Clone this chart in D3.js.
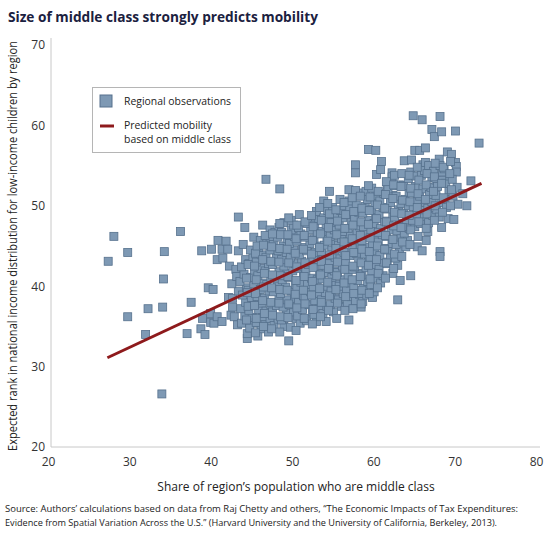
<!DOCTYPE html>
<html><head><meta charset="utf-8">
<script src="https://cdn.jsdelivr.net/npm/d3@7/dist/d3.min.js"></script>
<style>body{margin:0;background:#fff}svg{display:block}text{font-family:"Open Sans","Noto Sans",sans-serif}</style>
</head><body><svg id="c" width="550" height="534"></svg>
<script>
const xTicks = [20,30,40,50,60,70,80];
const yTicks = [20,30,40,50,60,70];
const trendLine = [[27.3,31.1],[73.3,52.8]];
const outliers = [[27.4,43.1],[28.1,46.2],[29.8,44.2],[29.8,36.2],[32.0,34.0],[32.3,37.2],[34.1,37.4],[34.3,44.3],[34.2,40.9],[34.0,26.6],[36.3,46.8],[37.6,38.0],[37.1,34.1],
[38.8,34.7],[39.3,34.0],[39.0,36.0],[38.9,44.4],[40.1,44.6],[39.7,39.8],[40.3,39.6],[40.0,36.6],[40.0,35.5],[40.4,35.4],[40.8,43.3],[40.9,45.7],[40.8,36.2],
[41.4,44.6],[41.9,45.6],[41.5,43.5],[42.1,44.6],[42.3,42.5],[41.4,35.6],[42.2,38.6],[42.5,36.4],[42.7,37.4],[42.7,38.5],[42.9,36.2],[43.1,42.1],[43.3,35.2],[43.4,48.6],[43.4,44.4],[43.4,39.4],[42.6,40.3],[43.2,41.2]];
const core = [
[44.5,33.5],[44.5,34.1],[43.8,35.4],[44.2,36.3],[43.7,37.2],[44.3,38.0],[43.9,38.9],[44.4,39.8],[43.6,40.6],[44.1,41.5],[43.8,42.4],[44.3,43.3],[44.0,45.2],[44.2,47.3],
[45.3,35.4],[44.8,34.8],[45.1,36.1],[44.7,37.0],[45.4,37.8],[45.0,38.6],[44.6,39.5],[45.3,40.3],[44.9,41.1],[45.4,42.0],[44.7,42.8],[45.2,43.6],[44.9,44.5],[45.3,46.1],
[45.8,33.8],[46.2,34.7],[45.6,35.5],[46.4,36.2],[45.9,37.1],[46.3,37.9],[45.7,38.7],[46.1,39.6],[46.4,40.4],[45.8,41.3],[46.2,42.2],[45.6,43.0],[46.3,43.9],[45.9,44.8],[46.1,45.7],[46.4,47.6],
[47.1,34.3],[46.7,35.2],[47.3,36.0],[46.8,36.9],[47.4,37.7],[46.6,38.5],[47.2,39.4],[46.9,40.2],[47.4,41.1],[46.7,41.9],[47.1,42.8],[46.8,43.6],[47.3,44.5],[46.9,45.3],[47.3,46.1],[47.3,47.0],[46.8,53.3],
[47.8,35.1],[48.3,35.9],[47.6,36.8],[48.1,37.6],[48.4,38.5],[47.7,39.3],[48.2,40.1],[47.9,41.0],[48.4,41.8],[47.6,42.7],[48.1,43.5],[48.3,44.4],[47.7,45.2],[48.2,46.1],[47.9,46.7],[48.4,47.3],[48.5,52.1],
[49.0,35.0],[49.6,33.2],[48.7,35.8],[49.3,36.6],[48.9,37.4],[49.4,38.3],[48.6,39.1],[49.2,39.9],[48.8,40.8],[49.4,41.6],[49.0,42.5],[48.7,43.3],[49.3,44.2],[48.9,45.0],[49.4,45.9],[48.7,46.7],[49.0,47.9],
[50.5,36.0],[49.8,34.9],[50.2,36.8],[49.7,37.7],[50.3,38.5],[49.9,39.4],[50.4,40.2],[49.6,41.1],[50.1,41.9],[50.4,42.8],[49.8,43.6],[50.2,44.5],[49.7,45.3],[50.3,46.2],[49.9,47.0],[50.2,47.6],[49.9,48.2],
[51.0,35.4],[50.7,36.3],[51.3,37.1],[50.8,38.0],[51.4,38.8],[50.6,39.7],[51.1,40.5],[51.4,41.4],[50.7,42.2],[51.2,43.1],[50.9,43.9],[51.3,44.8],[50.6,45.6],[51.1,46.5],[50.8,47.3],[50.9,48.9],
[52.5,36.8],[51.8,35.7],[52.1,37.7],[51.6,38.5],[52.3,39.3],[51.9,40.2],[52.4,41.0],[51.7,41.9],[52.0,42.7],[52.4,43.6],[51.8,44.4],[52.2,45.3],[51.6,46.1],[52.3,47.0],[52.4,48.1],[51.9,47.8],
[53.0,35.6],[52.7,36.5],[53.3,37.4],[52.8,38.2],[53.4,39.1],[52.6,39.9],[53.1,40.8],[53.4,41.6],[52.8,42.5],[53.2,43.3],[52.9,44.2],[53.4,45.0],[52.7,45.9],[53.1,46.7],[52.8,47.6],[53.3,48.4],[53.0,49.3],
[54.2,35.6],[53.8,36.6],[54.3,37.5],[53.6,38.3],[54.1,39.2],[54.4,40.0],[53.7,40.9],[54.2,41.7],[53.9,42.6],[54.4,43.4],[53.6,44.3],[54.0,45.1],[54.3,46.0],[53.7,46.8],[54.2,47.7],[53.9,48.5],[54.4,49.4],[53.9,50.6],[54.6,51.8],[54.6,48.1],
[55.1,36.8],[54.7,37.7],[55.3,38.5],[54.8,39.4],[55.4,40.2],[54.9,41.1],[55.2,41.9],[54.6,42.8],[55.3,43.6],[54.9,44.5],[55.4,45.3],[54.7,46.2],[55.2,47.0],[54.8,47.9],[55.4,49.0],[55.0,49.8],
[56.1,37.5],[55.7,38.3],[56.3,39.1],[55.8,40.0],[56.4,40.8],[55.6,41.7],[56.2,42.5],[55.9,43.4],[56.4,44.2],[55.7,45.1],[56.1,45.9],[56.3,46.8],[55.8,47.6],[56.2,48.5],[55.9,50.8],[56.0,49.4],[56.4,50.0],
[57.0,35.8],[56.8,37.9],[57.3,38.7],[56.7,39.6],[57.2,40.4],[56.9,41.3],[57.4,42.1],[56.6,43.0],[57.1,43.8],[57.4,44.7],[56.8,45.5],[57.2,46.4],[56.9,47.2],[57.3,48.1],[56.7,48.9],[57.1,49.8],[57.0,50.6],[57.0,52.0],
[58.5,37.4],[57.8,38.2],[58.3,39.0],[57.6,39.9],[58.1,40.7],[58.4,41.6],[57.7,42.4],[58.2,43.3],[57.9,44.1],[58.4,45.0],[57.6,45.8],[58.0,46.7],[58.3,47.5],[57.7,48.4],[58.2,49.2],[57.9,50.1],[58.5,51.6],[57.8,51.9],[57.8,55.1],[57.8,54.1],
[58.7,38.1],[59.2,38.9],[58.8,39.7],[59.3,40.6],[58.6,41.4],[59.1,42.3],[59.4,43.1],[58.9,44.0],[59.3,44.8],[58.6,45.7],[59.2,46.5],[58.8,47.4],[59.4,48.2],[58.7,49.1],[59.0,49.9],[59.3,50.8],[59.1,51.8],[59.4,57.0],
[59.9,38.6],[60.1,39.3],[59.7,40.2],[60.3,41.0],[59.8,41.9],[60.4,42.7],[59.6,43.6],[60.2,44.4],[59.9,45.3],[60.4,46.1],[59.7,47.0],[60.1,47.8],[60.3,48.7],[59.8,49.5],[60.2,50.4],[60.3,51.3],[59.8,52.2],[60.3,56.9],[60.4,53.9],
[60.9,40.4],[61.2,41.3],[60.7,42.1],[61.3,43.0],[60.8,43.8],[61.4,44.7],[60.6,45.5],[61.1,46.4],[60.9,47.2],[61.4,48.1],[60.7,48.9],[61.2,49.8],[60.8,50.6],[61.3,51.5],[60.9,54.5],[61.0,55.5],[61.7,52.6],
[62.4,41.6],[61.7,42.8],[62.1,43.6],[61.8,44.5],[62.3,45.3],[61.6,46.2],[62.2,47.0],[61.9,47.9],[62.4,48.7],[61.7,49.6],[62.1,50.4],[62.4,51.3],[61.8,52.1],[62.3,54.1],[62.3,53.6],[62.6,52.5],
[63.0,42.6],[63.3,40.7],[63.0,38.3],[62.7,43.5],[63.2,44.4],[62.8,45.2],[63.4,46.1],[62.9,46.9],[63.2,47.8],[62.6,48.6],[63.1,49.5],[63.4,50.3],[62.8,51.2],[63.2,52.6],
[64.0,44.9],[64.2,45.7],[63.8,46.6],[64.4,47.2],[63.6,47.4],[64.1,48.3],[63.7,49.1],[64.3,50.0],[63.9,50.8],[64.4,51.7],[63.7,52.5],[64.3,53.4],[63.8,55.6],[64.6,54.2],[64.7,55.7],[64.6,41.3],
[65.1,47.4],[65.4,44.9],[64.8,48.2],[65.3,49.0],[64.9,49.9],[65.4,50.7],[64.7,51.6],[65.2,52.4],[65.2,53.7],[65.1,56.9],[64.9,61.2],
[66.0,44.4],[66.5,45.7],[66.7,46.8],[65.8,47.8],[66.3,48.7],[65.9,49.5],[66.4,50.4],[65.7,51.2],[66.1,52.1],[66.1,55.1],[66.4,55.4],[65.9,53.8],[66.3,54.4],[65.7,56.9],[66.4,57.2],[66.0,60.7],
[66.8,47.9],[67.3,48.8],[66.7,49.7],[67.2,50.5],[66.9,51.4],[67.1,52.3],[67.2,53.5],[66.8,55.0],[67.4,54.3],[67.2,59.5],[67.5,58.6],
[68.2,44.3],[68.2,43.7],[67.7,53.2],[68.5,53.2],[68.5,54.2],[67.9,52.4],[68.1,55.8],[68.2,55.0],[67.8,49.5],[68.3,50.4],[67.7,51.3],[68.1,48.6],[68.4,47.3],[68.4,59.2],[68.2,61.1],
[69.1,56.7],[69.6,56.4],[69.0,49.8],[68.8,50.9],[69.3,51.8],[68.9,52.8],[69.4,53.7],[68.7,54.6],[69.2,48.4],
[69.9,48.3],[70.1,55.4],[70.2,54.9],[70.2,54.2],[70.1,59.3],[69.8,51.2],[70.3,52.3],[69.7,53.3],[70.4,50.2],
[71.0,51.5],[71.5,50.0],[72.0,53.1],[73.0,57.8]];
const coreInner = [
[44.4,35.8],[44.6,37.5],[44.5,39.2],[44.4,41.0],[44.6,42.7],
[45.5,34.2],[45.6,36.0],[45.4,37.6],[45.5,39.1],[45.6,40.8],[45.4,42.5],[45.5,44.1],[45.7,45.0],
[46.5,35.0],[46.6,36.6],[46.4,38.2],[46.5,39.9],[46.6,41.6],[46.4,43.3],[46.5,45.1],[46.7,46.3],
[47.5,34.7],[47.6,36.4],[47.4,38.0],[47.5,39.8],[47.6,41.4],[47.4,43.1],[47.5,44.9],[47.6,46.5],
[48.5,34.3],[48.6,36.2],[48.4,37.9],[48.5,39.6],[48.6,41.3],[48.4,43.0],[48.5,44.7],[48.6,46.4],[48.5,47.8],
[49.5,36.1],[49.6,37.8],[49.4,39.5],[49.5,41.2],[49.6,42.9],[49.4,44.6],[49.5,46.4],[49.6,48.5],
[50.5,34.5],[50.6,37.3],[50.4,39.0],[50.5,40.7],[50.6,42.4],[50.4,44.1],[50.5,45.9],[50.6,47.6],
[51.5,36.0],[51.6,37.8],[51.4,39.5],[51.5,41.2],[51.6,42.9],[51.4,44.6],[51.5,46.3],[51.6,48.0],
[52.5,35.3],[52.6,37.1],[52.4,38.9],[52.5,40.6],[52.6,42.3],[52.4,44.0],[52.5,45.7],[52.6,47.4],[52.4,48.8],
[53.5,36.2],[53.6,38.0],[53.4,39.7],[53.5,41.4],[53.6,43.1],[53.4,44.8],[53.5,46.5],[53.6,48.2],[53.4,49.8],
[54.5,37.0],[54.6,38.8],[54.4,40.5],[54.5,42.2],[54.6,43.9],[54.4,45.6],[54.5,47.3],[54.6,49.0],[54.4,50.3],
[55.5,36.0],[55.6,37.9],[55.4,39.6],[55.5,41.3],[55.6,43.0],[55.4,44.7],[55.5,46.4],[55.6,48.1],[55.4,49.5],
[56.5,37.0],[56.6,38.7],[56.4,40.4],[56.5,42.1],[56.6,43.8],[56.4,45.5],[56.5,47.2],[56.6,48.9],[56.4,50.4],
[57.5,37.2],[57.6,39.1],[57.4,40.8],[57.5,42.5],[57.6,44.2],[57.4,45.9],[57.5,47.6],[57.6,49.3],[57.4,51.0],
[58.5,37.8],[58.6,39.5],[58.4,41.2],[58.5,42.9],[58.6,44.6],[58.4,46.3],[58.5,48.0],[58.6,49.7],[58.4,51.2],
[59.5,39.1],[59.6,40.9],[59.4,42.6],[59.5,44.3],[59.6,46.0],[59.4,47.7],[59.5,49.4],[59.6,51.1],[59.4,52.5],
[60.5,39.8],[60.6,41.6],[60.4,43.3],[60.5,45.0],[60.6,46.7],[60.4,48.4],[60.5,50.1],[60.6,51.8],
[61.5,41.0],[61.6,42.9],[61.4,44.6],[61.5,46.3],[61.6,48.0],[61.4,49.7],[61.5,51.4],[61.6,53.0],
[62.5,42.2],[62.6,44.0],[62.4,45.8],[62.5,47.5],[62.6,49.2],[62.4,50.9],[62.5,52.6],[62.6,53.8],
[63.5,43.7],[63.6,45.5],[63.4,47.3],[63.5,49.0],[63.6,50.7],[63.4,52.4],[63.5,54.0],
[64.5,45.2],[64.6,47.0],[64.4,48.8],[64.5,50.5],[64.6,52.2],[64.4,53.8],
[65.5,46.2],[65.6,48.0],[65.4,49.8],[65.5,51.5],[65.6,53.2],[65.4,54.8],
[66.5,47.2],[66.6,49.0],[66.4,50.8],[66.5,52.6],[66.6,54.0],
[67.5,48.2],[67.6,50.0],[67.4,51.8],[67.5,53.6],[67.6,55.3],
[68.5,49.2],[68.6,51.0],[68.4,52.8],[68.6,54.8],
[69.5,50.0],[69.6,52.0],[69.4,54.0],[69.5,55.5]];
const points = outliers.concat(core, coreInner);

const svg = d3.select("#c");
const x = d3.scaleLinear().domain([20,80]).range([48,536]);
const y = d3.scaleLinear().domain([20,70]).range([447,45]);

svg.append("text").attr("x",8).attr("y",22).attr("font-size",15).attr("font-weight",700)
  .attr("fill","#1b2140").attr("textLength",310).attr("lengthAdjust","spacingAndGlyphs")
  .text("Size of middle class strongly predicts mobility");

svg.append("line").attr("x1",51).attr("x2",51).attr("y1",38).attr("y2",y(20)).attr("stroke","#c8c8c8");
svg.append("line").attr("x1",51).attr("x2",540).attr("y1",y(20)).attr("y2",y(20)).attr("stroke","#c8c8c8");

const yAxis = d3.axisLeft(y).tickValues(yTicks).tickSize(0).tickPadding(4);
const gy = svg.append("g").attr("transform","translate(49,0)").call(yAxis);
gy.select(".domain").remove();
gy.selectAll("text").attr("font-size",12).attr("fill","#333").attr("font-family","Open Sans");

const xAxis = d3.axisBottom(x).tickValues(xTicks).tickSize(0).tickPadding(10);
const gx = svg.append("g").attr("transform",`translate(0,${y(20)})`).call(xAxis);
gx.select(".domain").remove();
gx.selectAll("text").attr("font-size",12).attr("fill","#333").attr("font-family","Open Sans");

svg.append("text").attr("transform","translate(17,246) rotate(-90)").attr("text-anchor","middle")
  .attr("font-size",12).attr("fill","#222").attr("textLength",410).attr("lengthAdjust","spacingAndGlyphs")
  .text("Expected rank in national income distribution for low-income children by region");
svg.append("text").attr("x",296).attr("y",491).attr("text-anchor","middle")
  .attr("font-size",12).attr("fill","#222")
  .text("Share of region\u2019s population who are middle class");

const src = ["Source: Authors\u2019 calculations based on data from Raj Chetty and others, \u201cThe Economic Impacts of Tax Expenditures:",
  "Evidence from Spatial Variation Across the U.S.\u201d (Harvard University and the University of California, Berkeley, 2013)."];
svg.append("text").attr("x",5).attr("y",512).attr("font-size",9.5).attr("fill","#222").attr("textLength",513).attr("lengthAdjust","spacingAndGlyphs").text(src[0]);
svg.append("text").attr("x",5).attr("y",526).attr("font-size",9.5).attr("fill","#222").attr("textLength",492).attr("lengthAdjust","spacingAndGlyphs").text(src[1]);

const s = 8;
svg.append("g").selectAll("rect").data(points).join("rect")
  .attr("x",d=>x(d[0])-s/2).attr("y",d=>y(d[1])-s/2).attr("width",s).attr("height",s)
  .attr("fill","#7e99b4").attr("stroke","#56718d").attr("stroke-width",0.8);

svg.append("line").attr("x1",x(trendLine[0][0])).attr("y1",y(trendLine[0][1]))
  .attr("x2",x(trendLine[1][0])).attr("y2",y(trendLine[1][1]))
  .attr("stroke","#8e1a1c").attr("stroke-width",3);

const lg = svg.append("g");
lg.append("rect").attr("x",92.5).attr("y",87.5).attr("width",148).attr("height",65).attr("fill","#fff").attr("stroke","#b5b5b5");
lg.append("rect").attr("x",100).attr("y",95).attr("width",12).attr("height",12).attr("fill","#7e99b4").attr("stroke","#56718d");
lg.append("text").attr("x",124).attr("y",105).attr("font-size",11.5).attr("fill","#222").attr("textLength",107).attr("lengthAdjust","spacingAndGlyphs").text("Regional observations");
lg.append("line").attr("x1",100).attr("x2",114).attr("y1",126).attr("y2",126).attr("stroke","#8e1a1c").attr("stroke-width",3);
lg.append("text").attr("x",124).attr("y",129).attr("font-size",11.5).attr("fill","#222").attr("textLength",88).attr("lengthAdjust","spacingAndGlyphs").text("Predicted mobility");
lg.append("text").attr("x",124).attr("y",143).attr("font-size",11.5).attr("fill","#222").attr("textLength",107).attr("lengthAdjust","spacingAndGlyphs").text("based on middle class");
</script></body></html>
